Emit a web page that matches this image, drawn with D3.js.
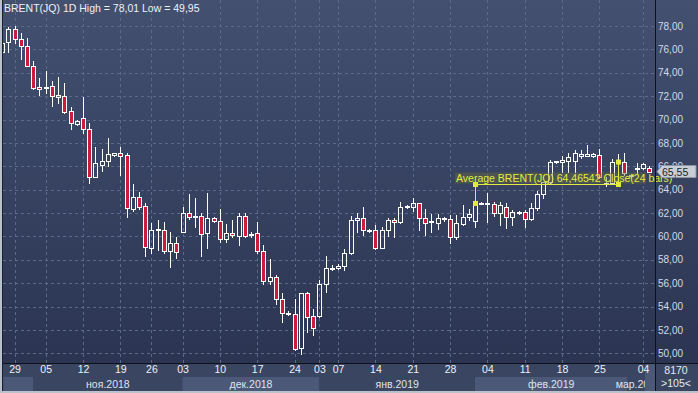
<!doctype html>
<html>
<head>
<meta charset="utf-8">
<script src="https://cdn.jsdelivr.net/npm/d3@7/dist/d3.min.js"></script>
<style>
  html, body { margin: 0; padding: 0; background: #2c3653; }
  svg { display: block; font-family: "Liberation Sans", Arial, sans-serif; }
</style>
</head>
<body>
<svg id="chart" width="698" height="393"></svg>
<script>
// daily candles, index 0 = partly cut off at the left edge
var opens  = [75.75,76.60,77.72,76.86,76.29,74.60,72.75,72.67,72.86,71.95,72.01,70.72,69.61,70.10,69.16,65.10,66.10,66.47,66.96,67.10,
              66.96,62.31,63.33,62.59,59.02,60.54,60.59,58.76,59.40,60.39,61.96,61.62,61.73,60.25,61.54,61.33,59.82,60.25,60.05,61.73,
              60.11,60.25,58.76,56.17,56.54,54.63,53.38,53.40,50.49,55.20,53.17,53.20,55.89,57.26,57.34,57.48,58.62,61.39,61.54,60.47,
              60.59,59.05,60.59,61.39,61.19,62.53,62.48,62.82,61.54,61.22,61.11,61.46,61.46,59.96,61.05,61.67,61.33,62.82,62.82,62.76,
              61.96,62.53,61.67,61.96,62.05,61.48,62.39,63.59,64.62,66.33,66.33,66.44,66.44,66.90,66.90,66.90,66.96,64.50,64.60,66.30,
              66.33,65.20,65.73,65.84,65.82];
var highs  = [76.70,77.90,78.01,77.38,76.95,75.00,73.52,74.15,73.29,73.61,73.15,71.04,69.95,71.90,69.67,67.67,67.44,68.44,67.13,67.67,
              67.10,64.47,63.81,62.87,61.16,61.39,61.25,60.39,59.91,62.53,63.62,63.25,61.96,63.68,61.65,62.31,61.05,61.39,62.02,62.02,
              60.35,61.25,59.25,58.05,56.74,55.17,53.58,54.63,55.20,55.22,53.83,56.31,58.31,57.54,57.60,58.88,61.73,61.96,62.48,60.65,
              60.96,60.82,61.54,61.54,62.96,62.68,63.25,62.85,62.31,61.88,61.90,61.65,61.82,61.82,62.67,62.31,62.96,62.92,63.68,62.96,
              62.96,62.82,62.25,62.16,62.25,62.82,63.87,64.67,66.53,66.48,66.90,67.10,67.38,67.38,67.81,67.12,67.47,65.07,66.61,67.04,
              67.10,65.35,66.27,66.30,66.06];
var lows   = [75.60,75.75,76.57,75.15,74.55,72.58,72.09,72.24,71.18,71.38,70.58,69.16,69.52,68.86,64.58,65.05,65.61,66.01,66.87,65.24,
              61.67,62.19,62.31,58.33,58.62,58.82,58.54,57.39,58.16,60.35,61.48,60.82,58.31,59.02,61.22,59.53,59.53,59.96,59.25,59.91,
              59.93,58.59,55.89,55.89,54.26,52.68,53.26,50.26,49.95,51.83,51.55,53.11,55.25,57.11,57.25,57.11,58.48,60.39,60.11,60.39,
              58.88,59.02,60.02,59.96,61.11,62.42,62.19,60.59,60.11,60.39,60.62,61.35,59.45,59.74,60.97,61.39,60.77,62.76,61.25,61.73,
              60.96,60.68,60.96,61.90,60.82,61.39,62.25,63.25,64.53,66.27,65.53,65.47,65.53,66.67,66.88,66.82,64.96,64.30,64.50,66.10,
              65.24,65.10,65.41,65.75,65.50];
var closes = [76.57,77.72,76.86,76.29,74.60,72.72,72.58,72.75,72.03,72.07,70.66,69.67,69.87,69.16,65.10,66.24,66.47,67.02,67.10,66.90,
              62.39,63.33,62.48,59.10,60.59,60.62,58.76,59.40,58.63,61.96,61.62,61.73,60.17,61.54,61.33,59.82,60.25,60.11,61.73,60.05,
              60.19,58.76,56.17,56.54,54.63,53.49,53.49,50.41,55.20,53.11,52.20,55.89,57.26,57.34,57.48,58.62,61.39,61.54,60.53,60.59,
              59.05,60.59,61.39,61.19,62.53,62.59,62.82,61.54,61.11,61.33,61.54,61.54,59.96,61.11,61.67,61.88,62.82,62.87,62.87,61.96,
              62.67,61.67,62.05,62.10,61.48,62.44,63.59,64.62,66.33,66.44,66.53,66.81,67.10,67.02,67.02,67.02,65.10,64.56,66.36,66.36,
              65.39,65.25,65.82,66.18,65.55];

// x axis: candle index of each labelled day
var tickIdx    = [2, 7, 13, 19, 24, 29, 35, 41, 47, 51, 54, 60, 66, 72, 78, 84, 90, 96, 103];
var tickLabels = ["29","05","12","19","26","03","10","17","24","03","07","14","21","28","04","11","18","25","04"];
var monthEdges  = [0.2, 5, 29, 51, 76, 100.5, 104];
var monthLabels = ["", "ноя.2018", "дек.2018", "янв.2019", "фев.2019", "мар.2019"];

var titleText = "BRENT(JQ) 1D High = 78,01 Low = 49,95";
var avgFrom = 76, avgTo = 99, avgValue = 64.46542;
var avgText = "Average BRENT(JQ) 64,46542 Close(24 bars)";
var lastPrice = 65.55;
var cornerTexts = ["8170", ">105<"];

var W = 698, H = 393;
var plotL = 3, plotR = 655, plotB = 363;

var svg = d3.select("#chart");
var defs = svg.append("defs");
var grad = defs.append("linearGradient").attr("id", "bg")
  .attr("x1", 0).attr("y1", 0).attr("x2", 0).attr("y2", 1);
grad.append("stop").attr("offset", "0%").attr("stop-color", "#435070");
grad.append("stop").attr("offset", "100%").attr("stop-color", "#2b3552");
defs.append("clipPath").attr("id", "plotclip").append("rect")
  .attr("x", plotL).attr("y", 0).attr("width", plotR - plotL).attr("height", plotB);
defs.append("clipPath").attr("id", "axclip").append("rect")
  .attr("x", plotL).attr("y", plotB).attr("width", plotR - plotL - 10).attr("height", H - plotB);

svg.append("rect").attr("width", W).attr("height", plotB).attr("fill", "url(#bg)");
svg.append("rect").attr("y", plotB).attr("width", W).attr("height", H - plotB).attr("fill", "#3a4561");

var x = d3.scaleLinear().domain([0, 104]).range([2.1, 649.2]);
var y = d3.scaleLinear().domain([50, 78]).range([353.3, 26]);

// grid
var grid = svg.append("g").attr("stroke", "#5b6a88").attr("stroke-dasharray", "3,3").attr("stroke-width", 1);
grid.selectAll(".h").data(y.ticks(14)).enter().append("line")
  .attr("x1", plotL).attr("x2", plotR)
  .attr("y1", function(d) { return Math.round(y(d)) + 0.5; })
  .attr("y2", function(d) { return Math.round(y(d)) + 0.5; });
grid.selectAll(".v").data(tickIdx).enter().append("line")
  .attr("y1", 0).attr("y2", plotB)
  .attr("x1", function(d) { return Math.round(x(d)) + 0.5; })
  .attr("x2", function(d) { return Math.round(x(d)) + 0.5; });

// candles
var candles = d3.range(opens.length).map(function(i) {
  return { i: i, o: opens[i], h: highs[i], l: lows[i], c: closes[i] };
});
var cg = svg.append("g").attr("clip-path", "url(#plotclip)");
var g = cg.selectAll("g.c").data(candles).enter().append("g");
g.each(function(d) {
  var el = d3.select(this);
  var cx = Math.round(x(d.i)) + 0.5;
  var top = Math.round(y(Math.max(d.o, d.c))) + 0.5;
  var bot = Math.round(y(Math.min(d.o, d.c))) + 0.5;
  if (bot - top < 1) bot = top + 1;
  el.append("line").attr("x1", cx).attr("x2", cx)
    .attr("y1", Math.round(y(d.h))).attr("y2", top).attr("stroke", "#ffffff");
  el.append("line").attr("x1", cx).attr("x2", cx)
    .attr("y1", bot).attr("y2", Math.round(y(d.l)) + 1).attr("stroke", "#ffffff");
  el.append("rect").attr("x", cx - 2).attr("y", top)
    .attr("width", 4).attr("height", bot - top)
    .attr("fill", d.c >= d.o ? "none" : "#cc1b3d")
    .attr("stroke", "#ffffff").attr("stroke-width", 1);
});

// average measurement overlay
var yel = "#e3ec3e";
var ov = svg.append("g");
var xa = Math.round(x(avgFrom)) + 0.5, xb = Math.round(x(avgTo)) + 0.5, ya = Math.round(y(avgValue)) + 0.5;
ov.append("rect").attr("x", 455).attr("y", ya - 12).attr("width", 191).attr("height", 11)
  .attr("fill", "#6a6d3c").attr("opacity", 0.45);
ov.append("text").attr("x", 456).attr("y", ya - 3).attr("fill", yel)
  .attr("font-size", "10.5px").text(avgText);
ov.append("line").attr("x1", xa).attr("x2", xb).attr("y1", ya).attr("y2", ya).attr("stroke", yel);
ov.append("line").attr("x1", xa).attr("x2", xa).attr("y1", ya).attr("y2", y(closes[avgFrom])).attr("stroke", yel);
ov.append("line").attr("x1", xb).attr("x2", xb).attr("y1", ya).attr("y2", y(closes[avgTo])).attr("stroke", yel);
[[xa, ya], [xb, ya], [xa, y(closes[avgFrom])], [xb, y(closes[avgTo])]].forEach(function(p) {
  ov.append("rect").attr("x", p[0] - 2.5).attr("y", p[1] - 2.5).attr("width", 5).attr("height", 5).attr("fill", yel);
});

// title
svg.append("text").attr("x", 4).attr("y", 12).attr("fill", "#eef1f6")
  .attr("font-size", "10.5px").text(titleText);

// right axis
var ra = svg.append("g").attr("transform", "translate(" + plotR + ",0)")
  .call(d3.axisRight(y).ticks(14).tickSize(0).tickPadding(3)
    .tickFormat(function(d) { return d3.format(".2f")(d).replace(".", ","); }));
ra.select(".domain").remove();
ra.selectAll("text").attr("fill", "#d3dae8").attr("font-size", "10px")
  .attr("font-family", "Liberation Sans, Arial, sans-serif");

// price marker
var py = y(lastPrice);
svg.append("path")
  .attr("d", "M" + 657 + "," + py + "L" + 662 + "," + (py - 6) + "H" + 696 + "V" + (py + 6) + "H" + 662 + "Z")
  .attr("fill", "#c9ced6").attr("stroke", "#8e96a4");
svg.append("text").attr("x", 662).attr("y", py + 4).attr("fill", "#1b1f28")
  .attr("font-size", "10.5px").text(d3.format(".2f")(lastPrice).replace(".", ","));

// bottom axis: month bands
var ax = svg.append("g").attr("clip-path", "url(#axclip)");
ax.selectAll("rect.m").data(monthLabels).enter().append("rect")
  .attr("x", function(d, i) { return x(monthEdges[i]); })
  .attr("width", function(d, i) { return x(monthEdges[i + 1]) - x(monthEdges[i]); })
  .attr("y", 377).attr("height", 14)
  .attr("fill", function(d, i) { return i % 2 === 0 ? "#4b5878" : "#3a4561"; });
ax.selectAll("text.m").data(monthLabels).enter().append("text")
  .attr("x", function(d, i) { return (x(monthEdges[i]) + x(monthEdges[i + 1])) / 2; })
  .attr("y", 388).attr("text-anchor", "middle").attr("fill", "#dfe4ee")
  .attr("font-size", "10.5px").text(function(d) { return d; });
svg.append("rect").attr("x", 645).attr("y", plotB).attr("width", 10).attr("height", H - plotB)
  .attr("fill", "#4b5878");

var bx = svg.append("g").attr("transform", "translate(0," + plotB + ")")
  .call(d3.axisBottom(x).tickValues(tickIdx).tickSize(0).tickPadding(3)
    .tickFormat(function(d, i) { return tickLabels[i]; }));
bx.select(".domain").remove();
bx.selectAll("text").attr("fill", "#eef1f6").attr("font-size", "10.5px")
  .attr("font-family", "Liberation Sans, Arial, sans-serif");

// corner texts
svg.selectAll("text.corner").data(cornerTexts).enter().append("text")
  .attr("x", 676).attr("y", function(d, i) { return 374 + i * 13; })
  .attr("text-anchor", "middle").attr("fill", "#e6eaf2").attr("font-size", "10.5px")
  .text(function(d) { return d; });

// frame lines
svg.append("line").attr("x1", plotR + 0.5).attr("x2", plotR + 0.5).attr("y1", 0).attr("y2", H)
  .attr("stroke", "#0d1119");
svg.append("line").attr("x1", 0).attr("x2", W).attr("y1", plotB + 0.5).attr("y2", plotB + 0.5)
  .attr("stroke", "#0d1119");
svg.append("rect").attr("x", 0).attr("y", 0).attr("width", 2).attr("height", H).attr("fill", "#b9c1cd");
svg.append("line").attr("x1", 2.5).attr("x2", 2.5).attr("y1", 0).attr("y2", H - 2).attr("stroke", "#1a2030");
svg.append("rect").attr("x", 0).attr("y", H - 2).attr("width", W).attr("height", 2).attr("fill", "#b9c1cd");
</script>
</body>
</html>
